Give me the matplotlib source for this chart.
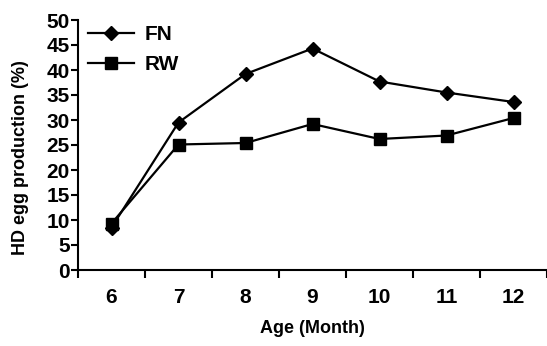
import matplotlib.pyplot as plt
from matplotlib.ticker import MultipleLocator

plt.rcParams['font.family'] = ['Liberation Sans', 'DejaVu Sans']
plt.rcParams['font.weight'] = 'bold'
plt.rcParams['axes.labelweight'] = 'bold'

months = [6, 7, 8, 9, 10, 11, 12]
fn = [8.5, 29.5, 39.2, 44.3, 37.7, 35.5, 33.6]
rw = [9.3, 25.1, 25.4, 29.2, 26.2, 26.9, 30.4]

fig = plt.figure(figsize=(5.47, 3.46), dpi=100)
ax = fig.add_axes([78 / 547, 76 / 346, 469 / 547, 250 / 346])

ax.plot(months, fn, color='black', lw=1.6, marker='D', ms=7, label='FN')
ax.plot(months, rw, color='black', lw=1.6, marker='s', ms=9, label='RW')

ax.set_xlim(5.5, 12.5)
ax.set_ylim(0, 50)
ax.set_xticks(months)
ax.xaxis.set_minor_locator(MultipleLocator(1, offset=0.5))
ax.yaxis.set_major_locator(MultipleLocator(5))
ax.tick_params(axis='x', which='major', length=0, pad=13, labelsize=15)
ax.tick_params(axis='x', which='minor', length=6, width=1.5)
ax.tick_params(axis='y', length=5, width=1.5, pad=1, labelsize=15)
for s in ['top', 'right']:
    ax.spines[s].set_visible(False)
for s in ['left', 'bottom']:
    ax.spines[s].set_linewidth(1.5)

ax.set_xlabel('Age (Month)', fontsize=13, labelpad=9)
ax.set_ylabel('HD egg production (%)', fontsize=13)
ax.yaxis.set_label_coords(-0.105, 0.45)

ax.legend(loc='upper left', frameon=False, fontsize=15, handlelength=2.2,
          handletextpad=0.5, borderaxespad=0.1, labelspacing=0.5,
          bbox_to_anchor=(0.0, 1.02))

fig.savefig('out.png', dpi=100)
